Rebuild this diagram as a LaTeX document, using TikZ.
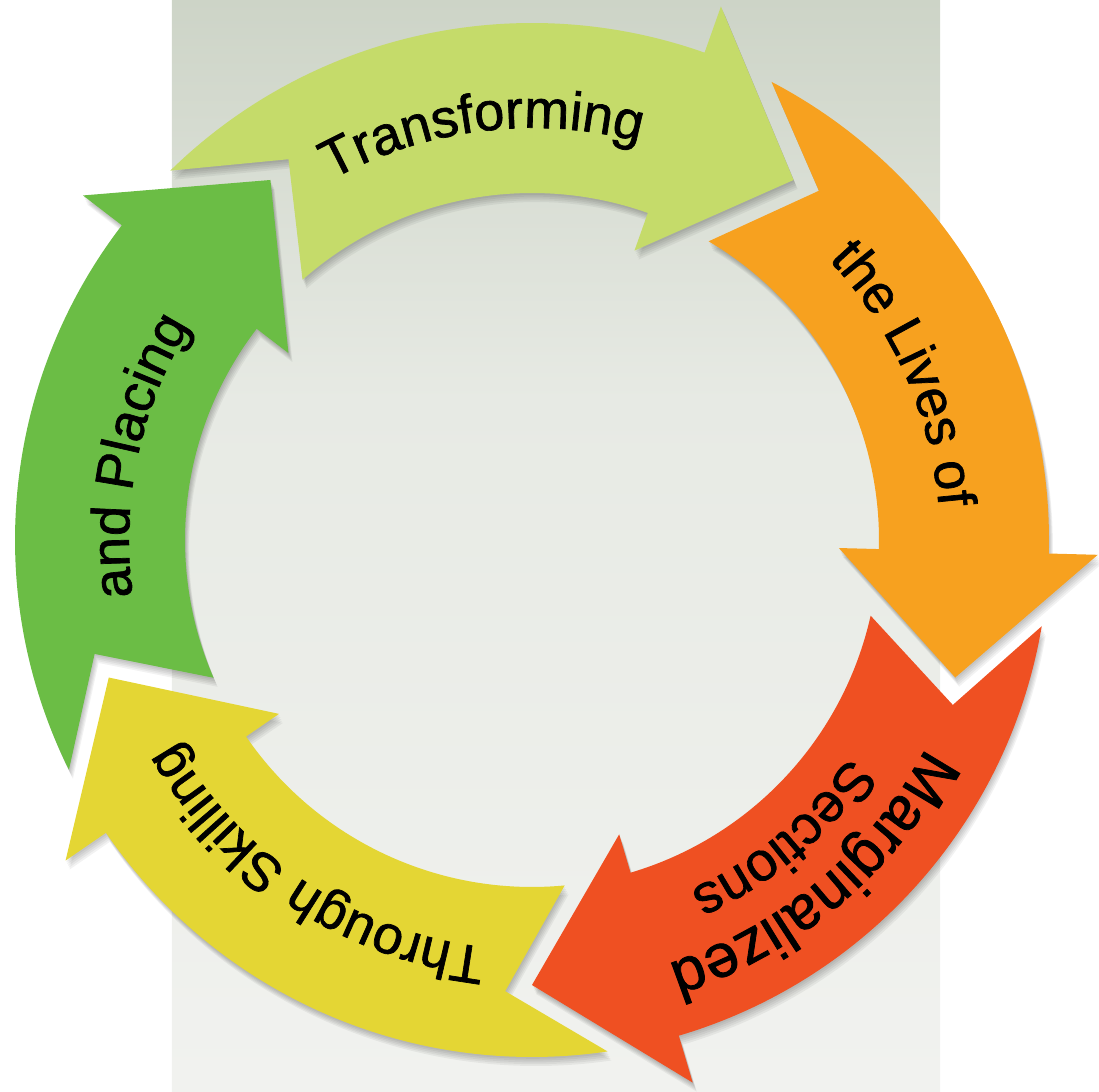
\documentclass[tikz,border=0pt]{standalone}
\usepackage{fontspec}
\setmainfont{Liberation Sans}
\newfontfamily\cyclefamily[FakeBold=1.3]{Liberation Sans}
\usepackage{tikz}
\usetikzlibrary{decorations.text}

\definecolor{bgtop}{RGB}{205,212,199}
\definecolor{bgmid}{RGB}{231,234,228}
\definecolor{bgbottom}{RGB}{241,242,239}
\definecolor{placegreen}{RGB}{107,189,69}
\definecolor{transgreen}{RGB}{197,219,106}
\definecolor{livesorange}{RGB}{247,161,31}
\definecolor{margred}{RGB}{239,80,34}
\definecolor{skillyellow}{RGB}{228,214,52}

\newcommand{\cyclefont}{\cyclefamily\fontsize{54}{60}\selectfont}
\newcommand{\margfont}{\cyclefamily\fontsize{61}{68}\selectfont}
\newcommand{\sectfont}{\cyclefamily\fontsize{55}{64}\selectfont}

% one ring arrow, #1 = angle of its tip, #2 = fill options
\newcommand{\ringarrow}[2]{%
  \fill[#2] ({#1+80.4}:517) arc[start angle={#1+80.4}, end angle={#1+16.5}, radius=517pt]
    -- ({#1+16.5}:566) -- (#1:445) -- ({#1+16.5}:307) -- ({#1+16.5}:347)
    arc[start angle={#1+16.5}, end angle={#1+77.4}, radius=347pt]
    -- ({#1+68.6}:452) -- cycle;}

\begin{document}
\begin{tikzpicture}[
  x=1pt, y=1pt,
  ringshadow/.style={black, opacity=0.05},
  ringtext/.style 2 args={decorate, decoration={text along path, text align=center,
    text={|#1|#2}}}
]
\useasboundingbox (-532,-551) rectangle (567,540);
\shade[top color=bgtop, bottom color=bgmid] (-360,140) rectangle (408,540);
\shade[top color=bgmid, bottom color=bgbottom] (-360,-551) rectangle (408,140.5);

% soft shadows first
\foreach \tip in {126,54,-18,-90,-162}
  \foreach \s in {1,...,5}
    \ringarrow{\tip}{ringshadow, shift={(\s*0.8,-\s*1.8)}};

\foreach \tip/\col in {126/placegreen, 54/transgreen, -18/livesorange,
                       -90/margred, -162/skillyellow}
  \ringarrow{\tip}{\col};

% labels along the ring
\path[ringtext={\cyclefont}{Transforming}] (142:412) arc[start angle=142, end angle=52, radius=412pt];
\path[ringtext={\cyclefont}{the Lives of}] (69:408) arc[start angle=69, end angle=-21, radius=408pt];
\path[ringtext={\margfont}{Marginalized}] (-5:445) arc[start angle=-5, end angle=-95, radius=445pt];
\path[ringtext={\sectfont}{Sections}] (-5:384) arc[start angle=-5, end angle=-95, radius=384pt];
\path[ringtext={\cyclefont}{Through Skilling}] (-78.5:410) arc[start angle=-78.5, end angle=-168.5, radius=410pt];
\path[ringtext={\cyclefont}{and Placing}] (213:403) arc[start angle=213, end angle=123, radius=403pt];
\end{tikzpicture}
\end{document}
